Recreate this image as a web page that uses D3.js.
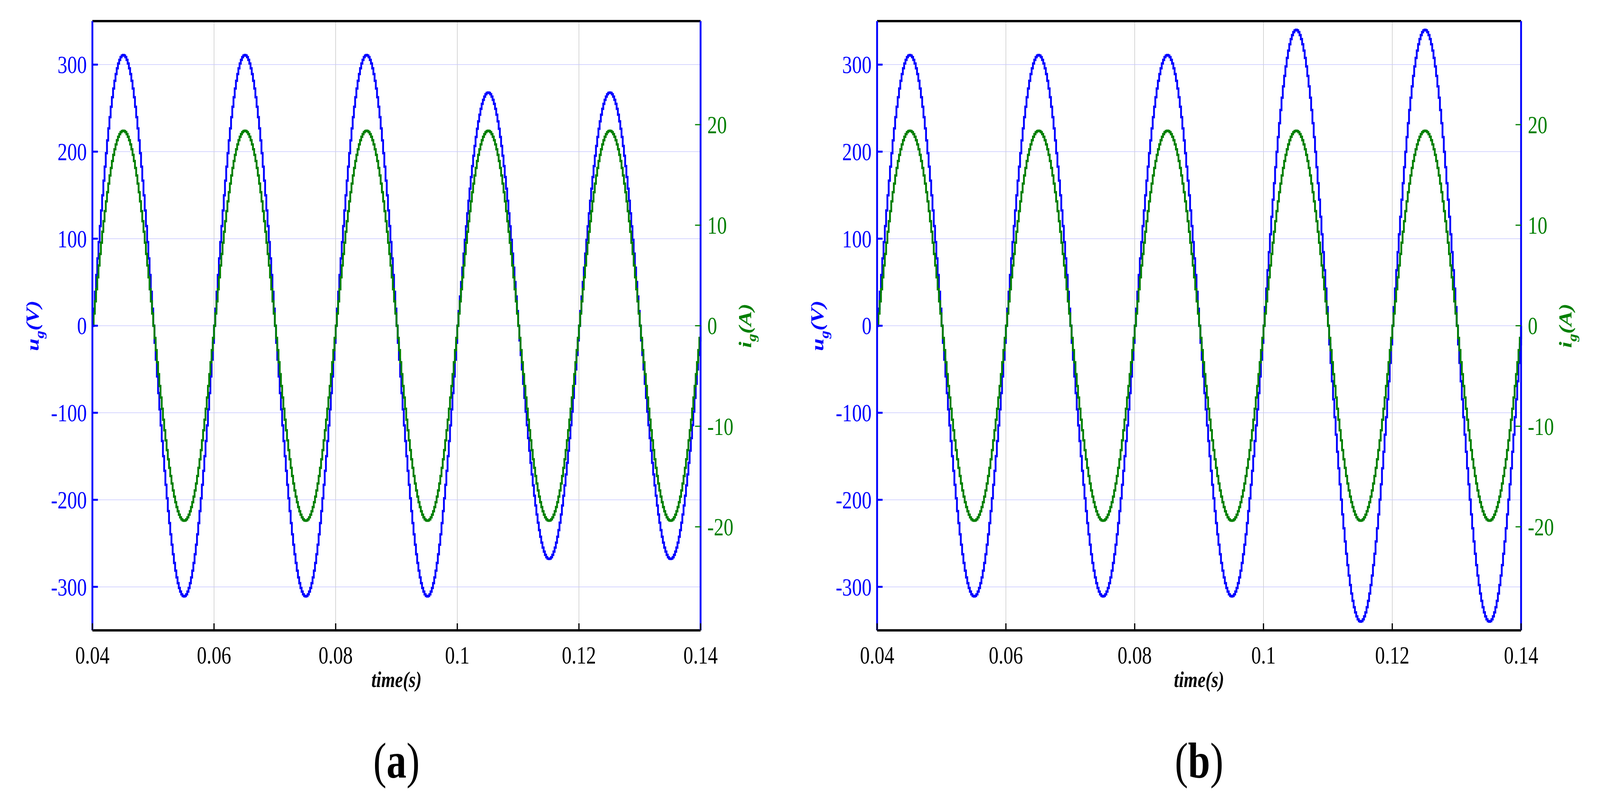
<!DOCTYPE html>
<html><head><meta charset="utf-8">
<script src="https://cdn.jsdelivr.net/npm/d3@7"></script>
<style>html,body{margin:0;background:#fff;overflow:hidden}svg{display:block}</style>
</head><body>
<script>
// half-cycle centres and peak values
const halfCentres = [0.045, 0.055, 0.065, 0.075, 0.085, 0.095, 0.105, 0.115, 0.125, 0.135];
const voltPeaksA = [311, -311, 311, -311, 311, -311, 268, -268, 268, -268];
const voltPeaksB = [311, -311, 311, -311, 311, -311, 340, -340, 340, -340];
const currPeaksA = [19.4, -19.4, 19.4, -19.4, 19.4, -19.4, 19.4, -19.4, 19.4, -19.4];
const currPeaksB = [19.4, -19.4, 19.4, -19.4, 19.4, -19.4, 19.4, -19.4, 19.4, -19.4];
const xTicks = [0.04, 0.06, 0.08, 0.1, 0.12, 0.14];
const uTicks = [-300, -200, -100, 0, 100, 200, 300];
const iTicks = [-20, -10, 0, 10, 20];

const W = 5230, H = 2065;
const svg = d3.select("body").append("svg")
  .attr("viewBox", `0 0 ${W} ${H}`).attr("preserveAspectRatio", "none")
  .style("width", "100vw").style("height", "100vh")
  .style("font-family", "'Liberation Serif', serif");

function samples(peaks) {
  const pts = [];
  for (let t = 0.04; t <= 0.14 + 1e-9; t += 0.0002) {
    let k = Math.min(peaks.length - 1, Math.floor((t - 0.04) / 0.01));
    const ph = (t - 0.04 - k * 0.01) / 0.01;
    pts.push([t, peaks[k] * Math.sin(Math.PI * ph)]);
  }
  return pts;
}

function panel(x0, x1, vPeaks, iPeaks, tag) {
  const y0 = 54, y1 = 1613;
  const x = d3.scaleLinear().domain([0.04, 0.14]).range([x0, x1]);
  const yu = d3.scaleLinear().domain([-350, 350]).range([y1, y0]);
  const yi = d3.scaleLinear().domain([-30.3, 30.3]).range([y1, y0]);
  const g = svg.append("g");

  g.selectAll(".gx").data(xTicks.slice(1, -1)).enter().append("line")
    .attr("x1", d => x(d)).attr("x2", d => x(d)).attr("y1", y0).attr("y2", y1)
    .attr("stroke", "#bbb").attr("stroke-width", 1.5);
  g.selectAll(".gy").data(uTicks).enter().append("line")
    .attr("x1", x0).attr("x2", x1).attr("y1", d => yu(d)).attr("y2", d => yu(d))
    .attr("stroke", "#c8c8ff").attr("stroke-width", 1.5);

  g.append("path").datum(samples(vPeaks)).attr("fill", "none").attr("stroke", "#0000ff")
    .attr("stroke-width", 6).attr("d", d3.line().x(d => x(d[0])).y(d => yu(d[1])).curve(d3.curveStepAfter));
  g.append("path").datum(samples(iPeaks)).attr("fill", "none").attr("stroke", "#007f00")
    .attr("stroke-width", 6).attr("d", d3.line().x(d => x(d[0])).y(d => yi(d[1])).curve(d3.curveStepAfter));

  // frame
  g.append("line").attr("x1", x0).attr("x2", x1).attr("y1", y0).attr("y2", y0).attr("stroke", "#000").attr("stroke-width", 6);
  g.append("line").attr("x1", x0).attr("x2", x1).attr("y1", y1).attr("y2", y1).attr("stroke", "#000").attr("stroke-width", 6);
  g.append("line").attr("x1", x0).attr("x2", x0).attr("y1", y0).attr("y2", y1).attr("stroke", "#0000ff").attr("stroke-width", 6);
  g.append("line").attr("x1", x1).attr("x2", x1).attr("y1", y0).attr("y2", y1).attr("stroke", "#0000ff").attr("stroke-width", 6);

  // x axis
  g.selectAll(".xt").data(xTicks).enter().append("text")
    .attr("x", d => x(d)).attr("y", y1 + 85).attr("text-anchor", "middle")
    .attr("font-size", 64).text(d => d3.format("")(d));
  g.selectAll(".xtm").data(xTicks).enter().append("line")
    .attr("x1", d => x(d)).attr("x2", d => x(d)).attr("y1", y1).attr("y2", y1 - 18).attr("stroke", "#000").attr("stroke-width", 4);
  g.append("text").attr("x", (x0 + x1) / 2).attr("y", y1 + 145).attr("text-anchor", "middle")
    .attr("font-size", 58).attr("font-weight", "bold").attr("font-style", "italic").text("time(s)");

  // left axis
  g.selectAll(".ut").data(uTicks).enter().append("text")
    .attr("x", x0 - 18).attr("y", d => yu(d) + 22).attr("text-anchor", "end")
    .attr("font-size", 64).attr("fill", "#0000ff").text(d => d);
  g.selectAll(".utm").data(uTicks).enter().append("line")
    .attr("x1", x0).attr("x2", x0 + 18).attr("y1", d => yu(d)).attr("y2", d => yu(d)).attr("stroke", "#0000ff").attr("stroke-width", 5);
  const ul = g.append("text").attr("transform", `translate(${x0 - 175},${yu(0)}) rotate(-90)`)
    .attr("text-anchor", "middle").attr("font-size", 58).attr("font-weight", "bold")
    .attr("font-style", "italic").attr("fill", "#0000ff");
  ul.append("tspan").text("u");
  ul.append("tspan").attr("dy", 16).attr("font-size", 40).text("g");
  ul.append("tspan").attr("dy", -16).text("(V)");

  // right axis
  g.selectAll(".it").data(iTicks).enter().append("text")
    .attr("x", x1 + 22).attr("y", d => yi(d) + 22).attr("text-anchor", "start")
    .attr("font-size", 64).attr("fill", "#007f00").text(d => d);
  g.selectAll(".itm").data(iTicks).enter().append("line")
    .attr("x1", x1).attr("x2", x1 - 18).attr("y1", d => yi(d)).attr("y2", d => yi(d)).attr("stroke", "#007f00").attr("stroke-width", 3);
  const il = g.append("text").attr("transform", `translate(${x1 + 165},${yu(0)}) rotate(-90)`)
    .attr("text-anchor", "middle").attr("font-size", 58).attr("font-weight", "bold")
    .attr("font-style", "italic").attr("fill", "#007f00");
  il.append("tspan").text("i");
  il.append("tspan").attr("dy", 16).attr("font-size", 40).text("g");
  il.append("tspan").attr("dy", -16).text("(A)");

  const tl = g.append("text").attr("x", (x0 + x1) / 2).attr("y", 1990).attr("text-anchor", "middle")
    .attr("font-size", 130);
  tl.append("tspan").text("(");
  tl.append("tspan").attr("font-weight", "bold").text(tag);
  tl.append("tspan").text(")");
}

panel(302, 2290, voltPeaksA, currPeaksA, "a");
panel(2867, 4972, voltPeaksB, currPeaksB, "b");
</script>
</body></html>
